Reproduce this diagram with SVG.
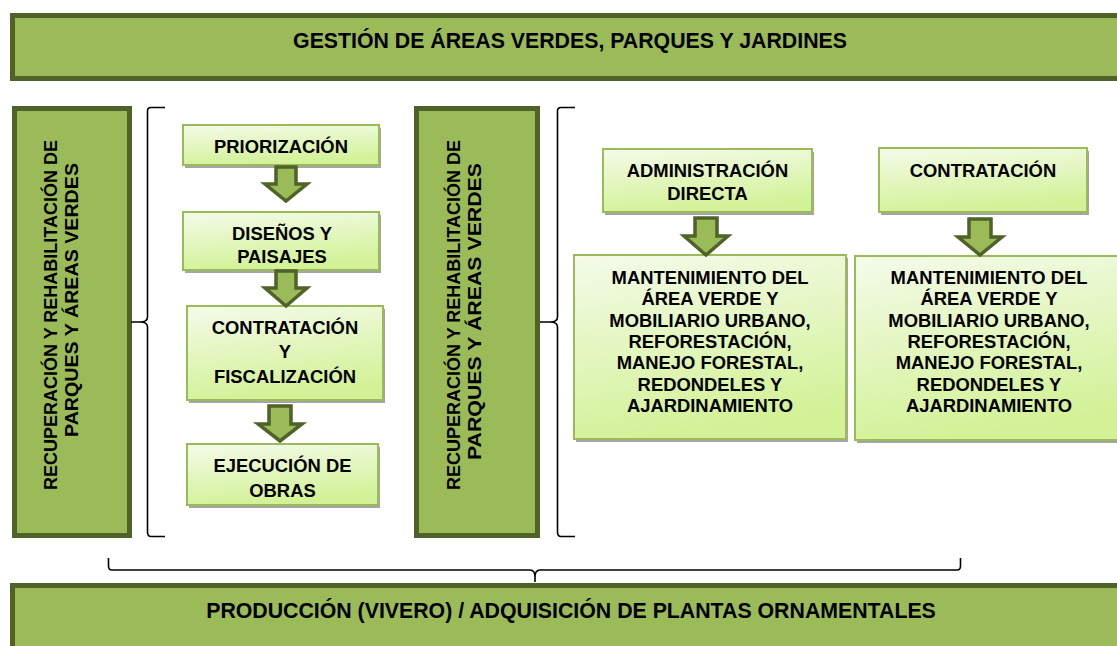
<svg xmlns="http://www.w3.org/2000/svg" width="1117" height="646" viewBox="0 0 1117 646">
<defs>
<linearGradient id="lg" x1="0" y1="0" x2="0.25" y2="1">
<stop offset="0" stop-color="#f4fbea"/>
<stop offset="1" stop-color="#d3f298"/>
</linearGradient>
<style>
.ban{fill:#9bbb59;stroke:#4f6228;stroke-width:5}
.box{fill:url(#lg);stroke:#9bbb59;stroke-width:2}
.sh{fill:#a5a5a5}
.arr{fill:#9bbb59;stroke:#4f6228;stroke-width:3.5;stroke-linejoin:miter}
.br{fill:none;stroke:#000;stroke-width:1.6}
text{font-family:"Liberation Sans",Arial,sans-serif;font-weight:bold;fill:#000;text-anchor:middle}
.t18{font-size:18.4px}
.t21{font-size:21.3px}
.v{font-size:18px;text-anchor:start}
</style>
</defs>

<g id="title">
<rect class="ban" x="12.5" y="15.5" width="1110" height="63"/>
<text class="t21" x="570" y="48">GESTIÓN DE ÁREAS VERDES, PARQUES Y JARDINES</text>
</g>

<g id="side1">
<rect class="ban" x="14.5" y="108.5" width="115" height="427"/>
<text class="v" transform="translate(57,490) rotate(-90)" textLength="350" lengthAdjust="spacingAndGlyphs">RECUPERACIÓN Y REHABILITACIÓN DE</text>
<text class="v" transform="translate(78,437) rotate(-90)" textLength="274" lengthAdjust="spacingAndGlyphs">PARQUES Y ÁREAS VERDES</text>
</g>

<g id="side2">
<rect class="ban" x="416.5" y="108.5" width="121" height="427"/>
<text class="v" transform="translate(460,490) rotate(-90)" textLength="350" lengthAdjust="spacingAndGlyphs">RECUPERACIÓN Y REHABILITACIÓN DE</text>
<text class="v" transform="translate(481,460) rotate(-90)" textLength="297" lengthAdjust="spacingAndGlyphs">PARQUES Y ÁREAS VERDES</text>
</g>

<g id="priorizacion">
<rect class="sh" x="185" y="128" width="196" height="40"/>
<rect class="box" x="183" y="125" width="196" height="40"/>
<text class="t18" x="281" y="153">PRIORIZACIÓN</text>
</g>

<g id="disenos">
<rect class="sh" x="185" y="215" width="196" height="58"/>
<rect class="box" x="183" y="212" width="196" height="58"/>
<text class="t18" x="282" y="240">DISEÑOS Y</text>
<text class="t18" x="282" y="263">PAISAJES</text>
</g>

<g id="contratacion1">
<rect class="sh" x="189" y="309" width="196" height="94"/>
<rect class="box" x="187" y="306" width="196" height="94"/>
<text class="t18" x="285" y="334">CONTRATACIÓN</text>
<text class="t18" x="285" y="358">Y</text>
<text class="t18" x="285" y="383">FISCALIZACIÓN</text>
</g>

<g id="ejecucion">
<rect class="sh" x="189" y="447" width="191" height="61"/>
<rect class="box" x="187" y="444" width="191" height="61"/>
<text class="t18" x="282.5" y="472">EJECUCIÓN DE</text>
<text class="t18" x="282.5" y="497">OBRAS</text>
</g>

<g id="administracion">
<rect class="sh" x="605" y="152" width="209" height="63"/>
<rect class="box" x="603" y="149" width="209" height="63"/>
<text class="t18" x="707.5" y="177">ADMINISTRACIÓN</text>
<text class="t18" x="707.5" y="200">DIRECTA</text>
</g>

<g id="contratacion2">
<rect class="sh" x="881" y="151" width="208" height="64"/>
<rect class="box" x="879" y="148" width="208" height="64"/>
<text class="t18" x="983" y="177">CONTRATACIÓN</text>
</g>

<g id="mantenimiento1">
<rect class="sh" x="576" y="258" width="272" height="184"/>
<rect class="box" x="574" y="255" width="272" height="184"/>
<text class="t18" x="710" y="284">MANTENIMIENTO DEL</text>
<text class="t18" x="710" y="305.3">ÁREA VERDE Y</text>
<text class="t18" x="710" y="326.6">MOBILIARIO URBANO,</text>
<text class="t18" x="710" y="347.9">REFORESTACIÓN,</text>
<text class="t18" x="710" y="369.2">MANEJO FORESTAL,</text>
<text class="t18" x="710" y="390.5">REDONDELES Y</text>
<text class="t18" x="710" y="411.8">AJARDINAMIENTO</text>
</g>

<g id="mantenimiento2">
<rect class="sh" x="857" y="259" width="272" height="184"/>
<rect class="box" x="855" y="256" width="272" height="184"/>
<text class="t18" x="989" y="284">MANTENIMIENTO DEL</text>
<text class="t18" x="989" y="305.3">ÁREA VERDE Y</text>
<text class="t18" x="989" y="326.6">MOBILIARIO URBANO,</text>
<text class="t18" x="989" y="347.9">REFORESTACIÓN,</text>
<text class="t18" x="989" y="369.2">MANEJO FORESTAL,</text>
<text class="t18" x="989" y="390.5">REDONDELES Y</text>
<text class="t18" x="989" y="411.8">AJARDINAMIENTO</text>
</g>

<g id="produccion">
<rect class="ban" x="12.5" y="585.5" width="1110" height="70"/>
<text class="t21" x="571" y="618">PRODUCCIÓN (VIVERO) / ADQUISICIÓN DE PLANTAS ORNAMENTALES</text>
</g>

<g id="connectors">
<path class="arr" d="M276,167 H296 V184 H307 L286,201 L265,184 H276 Z"/>
<path class="arr" d="M276,271 H296 V288 H307 L286,306 L265,288 H276 Z"/>
<path class="arr" d="M269,406 H291 V424 H302 L280,441 L258,424 H269 Z"/>
<path class="arr" d="M695,218 H717 V236 H728 L706,255 L684,236 H695 Z"/>
<path class="arr" d="M969,219 H991 V237 H1002 L980,255 L958,237 H969 Z"/>
<path class="br" d="M165,107.5 H151 Q147.5,107.5 147.5,111 V317 Q147.5,322 140,322 H131 M140,322 Q147.5,322 147.5,327 V532 Q147.5,536.5 151,536.5 H165"/>
<path class="br" d="M575,107.5 H561 Q557.5,107.5 557.5,111 V317 Q557.5,322 550,322 H540 M550,322 Q557.5,322 557.5,327 V532 Q557.5,536.5 561,536.5 H575"/>
<path class="br" d="M108.5,558 V566 Q108.5,570 112,570 H530 Q535,570 535,577 V582 M535,577 Q535,570 540,570 H957 Q960.5,570 960.5,566 V558"/>
</g>
</svg>
